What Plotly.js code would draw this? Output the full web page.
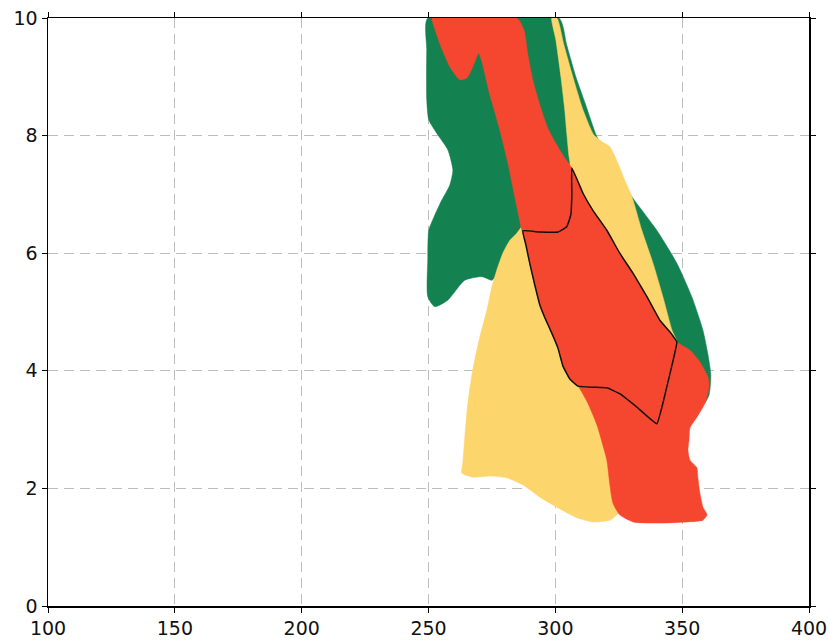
<!DOCTYPE html>
<html>
<head>
<meta charset="utf-8">
<script src="https://cdn.plot.ly/plotly-3.0.1.min.js"></script>
<style>
  html, body { margin: 0; padding: 0; background: #fff; }
  #chart { width: 829px; height: 641px; }
</style>
</head>
<body>
<div id="chart"></div>
<script>
// Region outlines (data units: x = 100..400, y = 0..10)
const greenX = [249.7, 301.4, 304.5, 308.1, 312.0, 316.4, 321.5, 327.4, 330.2, 340.0, 347.9, 353.8, 358.2, 360.2, 361.3, 360.6, 358.2, 349.1, 325.4, 301.8, 288.0, 276.1, 275.0, 271.0, 264.3, 257.6, 252.5, 249.7, 249.7, 250.1, 252.5, 255.2, 258.4, 259.6, 257.6, 253.7, 250.1, 249.3, 249.3, 249.7];
const greenY = [10.0, 10.0, 9.54, 9.00, 8.52, 7.98, 7.59, 7.16, 6.96, 6.39, 5.83, 5.26, 4.69, 4.27, 3.93, 3.59, 3.42, 3.50, 4.18, 5.20, 5.88, 5.58, 5.54, 5.60, 5.54, 5.20, 5.09, 5.26, 5.88, 6.39, 6.65, 6.90, 7.16, 7.41, 7.76, 8.01, 8.27, 8.61, 9.46, 10.0];

const yellowX = [298.6, 300.6, 303.4, 306.9, 310.9, 315.2, 318.7, 321.5, 324.7, 327.4, 330.2, 334.1, 338.5, 342.4, 346.0, 347.9, 345.2, 333.3, 327.4, 324.3, 321.5, 314.8, 308.5, 300.6, 293.9, 287.2, 280.9, 274.2, 267.5, 263.1, 263.5, 264.3, 265.5, 267.1, 268.2, 270.2, 273.0, 275.0, 276.9, 279.3, 282.1, 284.8, 295.9, 305.7, 305.3, 304.5, 303.7, 302.2, 300.2, 298.6];
const yellowY = [10.0, 10.0, 9.54, 9.00, 8.44, 8.01, 7.89, 7.81, 7.53, 7.24, 6.96, 6.39, 5.83, 5.26, 4.69, 4.49, 3.50, 2.48, 1.72, 1.55, 1.46, 1.43, 1.50, 1.68, 1.85, 2.06, 2.18, 2.21, 2.19, 2.26, 2.43, 2.87, 3.45, 3.93, 4.18, 4.57, 5.03, 5.43, 5.71, 6.00, 6.22, 6.34, 6.99, 7.50, 7.67, 8.04, 8.44, 9.00, 9.63, 10.0];

const redX = [251.3, 284.8, 287.6, 289.2, 291.1, 293.9, 297.0, 300.6, 303.7, 306.5, 310.9, 314.8, 320.3, 325.4, 330.6, 336.1, 341.2, 345.2, 347.9, 353.1, 357.0, 360.2, 360.6, 359.0, 355.8, 353.1, 352.7, 352.3, 353.1, 355.8, 356.2, 357.0, 358.2, 359.8, 358.2, 351.9, 341.2, 330.6, 325.4, 322.7, 321.5, 320.3, 318.7, 316.4, 312.8, 308.9, 305.7, 303.0, 301.0, 298.6, 295.9, 293.9, 291.9, 289.9, 288.4, 286.8, 284.0, 281.3, 278.1, 274.2, 269.8, 267.5, 265.1, 262.3, 258.4, 254.4, 251.3];
const redY = [10.0, 10.0, 9.80, 9.37, 8.95, 8.52, 8.13, 7.84, 7.62, 7.45, 7.02, 6.73, 6.39, 6.00, 5.66, 5.26, 4.86, 4.66, 4.49, 4.35, 4.15, 3.89, 3.72, 3.45, 3.21, 3.03, 2.82, 2.65, 2.48, 2.35, 2.18, 1.92, 1.68, 1.55, 1.46, 1.43, 1.41, 1.43, 1.55, 1.75, 2.06, 2.48, 2.74, 3.08, 3.45, 3.74, 3.86, 4.08, 4.39, 4.64, 4.90, 5.12, 5.46, 5.83, 6.14, 6.39, 6.96, 7.53, 8.10, 8.69, 9.40, 9.17, 8.98, 8.95, 9.17, 9.57, 9.97];

const outlineX = [306.5, 310.9, 314.8, 320.3, 325.4, 330.6, 336.1, 341.2, 345.2, 347.9, 346.0, 343.2, 340.0, 332.2, 325.4, 320.3, 314.8, 308.9, 305.7, 303.0, 301.0, 298.6, 295.9, 293.9, 291.9, 289.9, 288.4, 287.2, 293.9, 301.0, 304.5, 306.1, 306.5, 306.5];
const outlineY = [7.45, 7.02, 6.73, 6.39, 6.00, 5.66, 5.26, 4.86, 4.66, 4.49, 4.10, 3.59, 3.10, 3.38, 3.61, 3.71, 3.72, 3.74, 3.86, 4.08, 4.39, 4.64, 4.90, 5.12, 5.46, 5.83, 6.14, 6.38, 6.36, 6.36, 6.45, 6.65, 6.99, 7.45];

const xTicks = [100, 150, 200, 250, 300, 350, 400];
const yTicks = [0, 2, 4, 6, 8, 10];

const GREEN = '#138150';
const YELLOW = '#fcd56c';
const RED = '#f5462f';

function region(x, y, color) {
  return {
    type: 'scatter', mode: 'lines', x: x, y: y,
    fill: 'toself', fillcolor: color,
    line: { color: color, width: 0.5, shape: 'spline', smoothing: 0.6 },
    hoverinfo: 'skip', showlegend: false
  };
}

const data = [
  region(greenX, greenY, GREEN),
  region(yellowX, yellowY, YELLOW),
  region(redX, redY, RED),
  {
    type: 'scatter', mode: 'lines', x: outlineX, y: outlineY,
    line: { color: '#111', width: 1.5, shape: 'spline', smoothing: 0.3 },
    hoverinfo: 'skip', showlegend: false
  }
];

const axisCommon = {
  showline: true, linecolor: '#000', linewidth: 1.5, mirror: 'ticks',
  ticks: 'outside', ticklen: 5, tickcolor: '#000', tickwidth: 1,
  showgrid: true, gridcolor: '#bdbdbd', gridwidth: 1, griddash: '10px,6px',
  zeroline: false,
  tickfont: { family: 'DejaVu Sans', size: 19, color: '#111' }
};

const layout = {
  width: 829, height: 641,
  margin: { l: 48, r: 20, t: 18, b: 35, pad: 0 },
  paper_bgcolor: '#fff', plot_bgcolor: '#fff',
  showlegend: false,
  xaxis: Object.assign({}, axisCommon, {
    range: [100, 400], tickvals: xTicks, ticktext: xTicks.map(String)
  }),
  yaxis: Object.assign({}, axisCommon, {
    range: [0, 10], tickvals: yTicks, ticktext: yTicks.map(String)
  })
};

Plotly.newPlot('chart', data, layout, { staticPlot: true, displayModeBar: false });
</script>
</body>
</html>
